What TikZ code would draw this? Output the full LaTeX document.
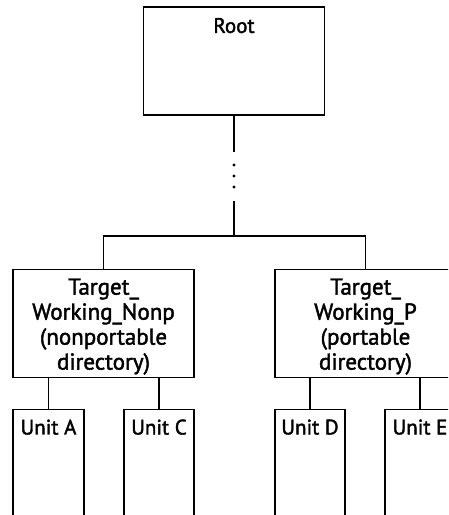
\documentclass[tikz,border=0pt]{standalone}
\usepackage{fontspec}
\setmainfont{PT Sans}[BoldFont={PT Sans},BoldFeatures={FakeBold=1.8}]
\begin{document}
\begin{tikzpicture}[x=1pt,y=-1pt,line width=1.1pt,
    box/.style={draw,line width=1.1pt,inner sep=0pt},
    dirbox/.style={box,minimum width=181pt,minimum height=108pt},
    unitbox/.style={box,minimum width=71pt,minimum height=200pt,anchor=north},
    tag/.style={anchor=north,inner sep=0pt,font=\fontsize{21}{24}\selectfont\bfseries},
    dirtag/.style={tag,align=center,yshift=-9pt,font=\fontsize{23}{25}\selectfont\bfseries}]
  \useasboundingbox (0,0) rectangle (448,515);
  \clip (0,0) rectangle (448,515);
  % root and the elided levels below it
  \node[box,minimum width=181pt,minimum height=108pt,
    label={[tag,yshift=-11pt]north:Root}] (root) at (234,61) {};
  \coordinate (dotstop) at (234,152);
  \coordinate (dotsbot) at (234,201);
  \coordinate (split) at (234,236);
  \draw (root.south) -- (dotstop);
  \foreach \y in {165,176,187} \fill (234,\y) circle (1.7pt);
  \draw (dotsbot) -- (split);
  % the two target directories
  \node[dirbox,label={[dirtag]north:Target\_\\Working\_Nonp\\(nonportable\\directory)}] (nonp) at (103.5,323.5) {};
  \node[dirbox,label={[dirtag]north:Target\_\\Working\_P\\(portable\\directory)}] (port) at (365.5,323.5) {};
  \draw (nonp.north) |- (split) -| (port.north);
  % units
  \node[unitbox,label={[tag,yshift=-10pt]north:Unit A}] (unita) at (48.5,409) {};
  \node[unitbox,minimum width=70pt,label={[tag,yshift=-10pt]north:Unit C}] (unitc) at (159,409) {};
  \node[unitbox,minimum width=70pt,label={[tag,yshift=-10pt]north:Unit D}] (unitd) at (310,409) {};
  \node[unitbox,minimum width=70pt,label={[tag,yshift=-10pt]north:Unit E}] (unite) at (420,409) {};
  \foreach \u/\d in {unita/nonp,unitc/nonp,unitd/port,unite/port}
    \draw (\u.north |- \d.south) -- (\u.north);
\end{tikzpicture}
\end{document}
